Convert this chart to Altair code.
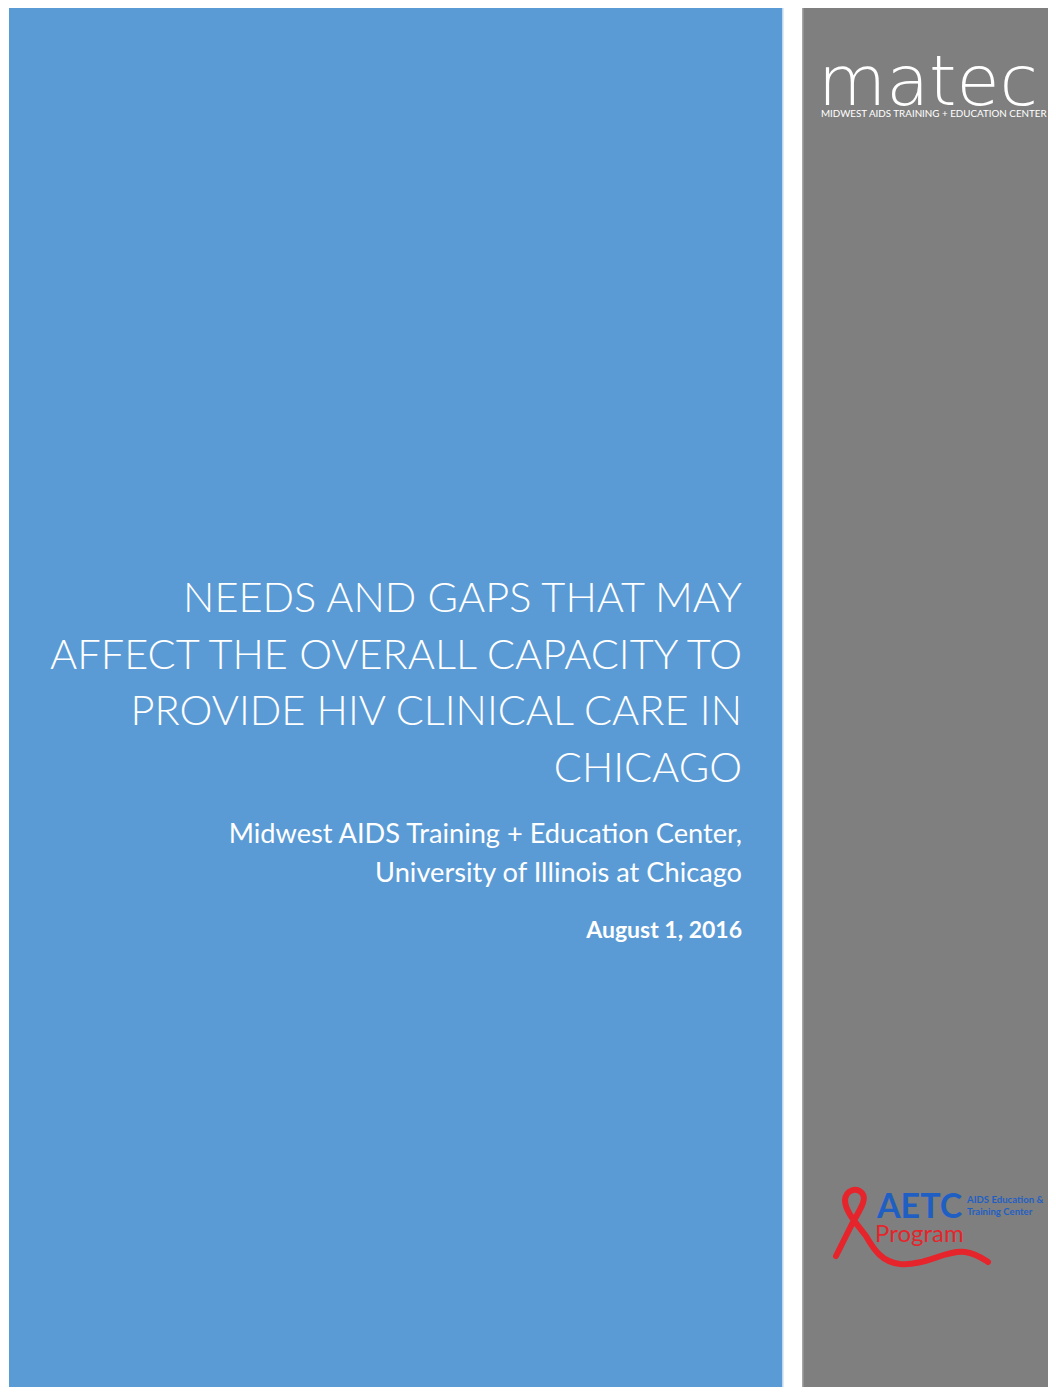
import altair as alt
import pandas as pd

# ---- content ----
title_lines = ["NEEDS AND GAPS THAT MAY", "AFFECT THE OVERALL CAPACITY TO",
               "PROVIDE HIV CLINICAL CARE IN", "CHICAGO"]
org_lines = ["Midwest AIDS Training + Education Center,", "University of Illinois at Chicago"]
date_lines = ["August 1, 2016"]
matec_word = ["matec"]
matec_sub = ["MIDWEST AIDS TRAINING + EDUCATION CENTER"]
aetc_word = ["AETC"]
aetc_program = ["Program"]
aetc_sub = ["AIDS Education &", "Training Center"]

BLUE = "#5B9BD5"
GRAY = "#7F7F7F"
AETC_BLUE = "#1F5FC4"
AETC_RED = "#E5252B"

OX, OY = 8, 8  # page margin
W, H = 1040, 1379


def px(x):
    return alt.value(x - OX)


def py(y):
    return alt.value(y - OY)


def block(lines):
    return pd.DataFrame({"t": ["\n".join(lines)]})


dummy = pd.DataFrame({"k": [0]})

blue = alt.Chart(dummy).mark_rect(color=BLUE).encode(
    x=px(9), x2=px(782), y=py(8), y2=alt.value(H))
blue_edge = alt.Chart(dummy).mark_rect(color="#BDD7EE").encode(
    x=px(782), x2=px(783.5), y=py(8), y2=alt.value(H))
gray = alt.Chart(dummy).mark_rect(color=GRAY).encode(
    x=px(803), x2=alt.value(W), y=py(8), y2=alt.value(H))
gray_edge = alt.Chart(dummy).mark_rect(color="#A6A6A6").encode(
    x=px(802), x2=px(803.5), y=py(8), y2=alt.value(H))


def text_layer(lines, x, y, size, align="right", weight="normal", color="white",
               font="Lato", line_height=None):
    kw = dict(align=align, baseline="alphabetic", fontSize=size, fontWeight=weight,
              color=color, font=font, lineBreak="\n")
    if line_height:
        kw["lineHeight"] = line_height
    return alt.Chart(block(lines)).mark_text(**kw).encode(
        text="t:N", x=px(x), y=py(y))


title = text_layer(title_lines, 742, 612, 41.5, weight=300, line_height=56.5)
org = text_layer(org_lines, 742, 843, 27.2, line_height=39)
date = text_layer(date_lines, 742, 938, 23, weight="bold")

matec = text_layer(matec_word, 818, 105, 70, align="left", weight=200,
                   font="DejaVu Sans")
matec_s = text_layer(matec_sub, 821, 117, 9.8, align="left")

aetc = text_layer(aetc_word, 877, 1218, 34, align="left", weight="bold", color=AETC_BLUE)
program = text_layer(aetc_program, 875, 1242, 24, align="left", color=AETC_RED)
aetc_s = text_layer(aetc_sub, 967, 1203, 9.6, align="left", weight="bold",
                    color=AETC_BLUE, line_height=12)

ribbon_path = ("M -0.925 0.3875 L -0.75 0.0375 "
               "C -0.65 -0.1625 -0.525 -0.3125 -0.6 -0.4 "
               "C -0.675 -0.475 -0.8 -0.4375 -0.8125 -0.3125 "
               "C -0.8125 -0.1625 -0.65 0 -0.55 0.1375 "
               "C -0.45 0.3125 -0.35 0.4625 -0.125 0.4875 "
               "C 0.1875 0.5125 0.4375 0.3125 0.6875 0.3375 "
               "C 0.8125 0.35 0.9 0.4125 0.975 0.4625")
ribbon = alt.Chart(dummy).mark_point(
    shape=ribbon_path, size=25600, filled=False, stroke=AETC_RED,
    strokeWidth=6, opacity=1, strokeCap="round", strokeJoin="round"
).encode(x=px(910), y=py(1225))

chart = alt.layer(
    blue, blue_edge, gray, gray_edge, title, org, date,
    matec, matec_s, ribbon, aetc, program, aetc_s
).properties(
    width=W, height=H, autosize="none", padding=0
).configure_view(stroke=None)

chart.save("out.html", embed_options={"renderer": "svg", "actions": False})
